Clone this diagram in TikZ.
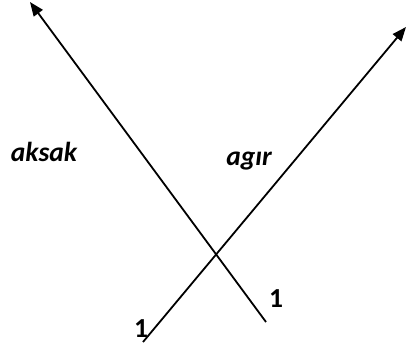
\documentclass[tikz,border=0pt]{standalone}
\usepackage{fontspec}
\setmainfont{Carlito}
\usetikzlibrary{arrows.meta}
\tikzset{
  axis/.style={line width=1.8pt, -{Triangle[length=14pt,width=11pt]}},
  lbl/.style={font=\fontsize{27.5}{30}\selectfont\bfseries\itshape, inner sep=0pt, anchor=base},
  num/.style={font=\fontsize{27.5}{30}\selectfont\bfseries, inner sep=0pt, anchor=base}
}
\begin{document}
\begin{tikzpicture}[x=1pt,y=-1pt]
\useasboundingbox (0,0) rectangle (406,346);
\coordinate (a1) at (266,322);
\coordinate (a2) at (30,2);
\coordinate (b1) at (143,342);
\coordinate (b2) at (406,27);
\draw[axis] (a1) -- (a2);
\draw[axis] (b1) -- (b2);
\node[lbl] (aksak) at (44,161) {aksak};
\node[lbl] (agir) at (249,165) {agır};
\node[num] (n1) at (276,307) {1};
\node[num] (n2) at (141,337) {1};
\end{tikzpicture}
\end{document}
